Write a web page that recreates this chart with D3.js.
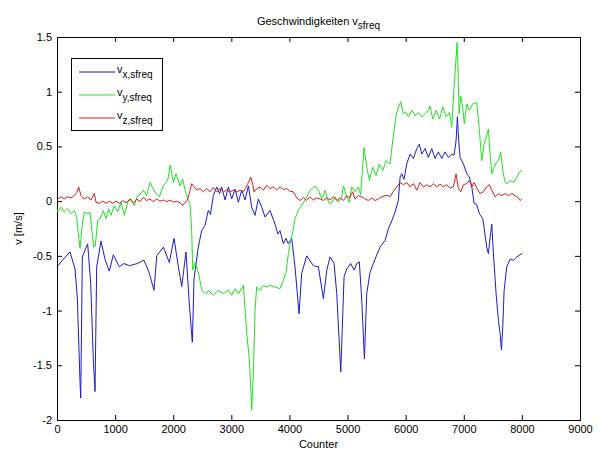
<!DOCTYPE html>
<html>
<head>
<meta charset="utf-8">
<script src="https://cdn.jsdelivr.net/npm/d3@7/dist/d3.min.js"></script>
<style>
body { margin: 0; background: #fff; }
text { font-family: "Liberation Sans", Arial, sans-serif; fill: #000; }
</style>
</head>
<body>
<script>

// v_x,sfreq
const vxCounter = [0, 110, 224, 310, 350, 396, 408, 436, 528, 580, 625, 654, 683, 757, 826, 900, 969, 1072, 1153, 1245,
    1382, 1497, 1583, 1670, 1716, 1830, 1933, 2014, 2088, 2146, 2220, 2277, 2329, 2358, 2432, 2490, 2547, 2604, 2642, 2690,
    2748, 2796, 2834, 2892, 2949, 3006, 3064, 3121, 3178, 3236, 3293, 3350, 3408, 3465, 3523, 3580, 3666, 3752, 3800, 3838,
    3896, 3941, 3981, 4039, 4096, 4165, 4211, 4297, 4412, 4498, 4584, 4642, 4699, 4768, 4814, 4883, 4940, 4986, 5055, 5112,
    5158, 5203, 5244, 5290, 5330, 5387, 5473, 5559, 5645, 5703, 5761, 5818, 5875, 5904, 5932, 5972, 6019, 6076, 6133, 6191,
    6236, 6277, 6334, 6391, 6449, 6506, 6563, 6621, 6678, 6735, 6793, 6833, 6867, 6890, 6913, 6936, 6994, 7051, 7096, 7138,
    7177, 7223, 7269, 7327, 7349, 7395, 7424, 7453, 7482, 7510, 7556, 7596, 7625, 7648, 7671, 7694, 7740, 7797, 7854, 7912,
    7969, 8000];
const vxValues = [-0.60, -0.53, -0.465, -0.62, -0.88, -1.65, -1.80, -0.51, -0.39, -0.75, -1.45, -1.74, -0.60, -0.365, -0.53, -0.64, -0.49, -0.60, -0.57, -0.59,
    -0.57, -0.54, -0.65, -0.815, -0.50, -0.42, -0.56, -0.34, -0.60, -0.78, -0.465, -0.94, -1.29, -0.71, -0.42, -0.27, -0.22, -0.085, -0.12, 0.05,
    0.13, 0.07, 0.13, 0.01, 0.13, 0.02, 0.11, -0.01, 0.10, 0.01, 0.14, -0.055, -0.13, 0.02, -0.055, -0.145, -0.085, -0.21, -0.30, -0.27,
    -0.39, -0.34, -0.39, -0.34, -0.60, -1.03, -0.66, -0.50, -0.59, -0.60, -0.89, -0.63, -0.51, -0.57, -0.845, -1.56, -0.69, -0.62, -0.57, -0.63,
    -0.57, -0.555, -0.905, -1.44, -0.845, -0.65, -0.53, -0.42, -0.36, -0.25, -0.18, -0.10, 0.01, 0.22, 0.25, 0.20, 0.34, 0.43, 0.39, 0.48,
    0.52, 0.43, 0.48, 0.40, 0.48, 0.39, 0.45, 0.39, 0.45, 0.40, 0.43, 0.42, 0.55, 0.77, 0.55, 0.40, 0.34, 0.25, 0.22, 0.13,
    -0.02, -0.03, -0.115, -0.16, -0.24, -0.42, -0.48, -0.33, -0.21, -0.48, -0.845, -1.09, -1.21, -1.36, -1.15, -0.82, -0.60, -0.53, -0.54, -0.51,
    -0.49, -0.48];

// v_y,sfreq
const vyCounter = [0, 12, 69, 126, 184, 241, 298, 339, 373, 396, 430, 470, 528, 568, 602, 631, 659, 700, 757, 797,
    843, 889, 929, 986, 1044, 1101, 1159, 1217, 1274, 1331, 1389, 1446, 1486, 1543, 1601, 1647, 1704, 1761, 1830, 1905,
    1950, 2002, 2048, 2117, 2163, 2203, 2260, 2289, 2318, 2335, 2375, 2432, 2490, 2518, 2576, 2604, 2690, 2776, 2862, 2948,
    3006, 3064, 3121, 3207, 3265, 3310, 3339, 3350, 3379, 3408, 3436, 3494, 3551, 3609, 3666, 3752, 3838, 3896, 3941, 3981,
    4022, 4057, 4096, 4154, 4211, 4269, 4355, 4441, 4498, 4556, 4613, 4670, 4727, 4785, 4842, 4900, 4928, 4974, 5031, 5072,
    5129, 5186, 5227, 5261, 5284, 5330, 5376, 5433, 5491, 5548, 5605, 5663, 5731, 5777, 5835, 5875, 5915, 5961, 6007, 6047,
    6105, 6162, 6219, 6277, 6334, 6392, 6420, 6466, 6525, 6582, 6639, 6697, 6754, 6793, 6833, 6867, 6885, 6902, 6919, 6948,
    6982, 7010, 7051, 7097, 7154, 7223, 7269, 7309, 7349, 7384, 7424, 7453, 7482, 7522, 7567, 7596, 7636, 7671, 7711, 7751,
    7809, 7866, 7912, 7957, 8000];
const vyValues = [-0.07, -0.10, -0.055, -0.10, -0.07, -0.115, -0.085, -0.145, -0.33, -0.43, -0.24, -0.10, -0.115, -0.10, -0.28, -0.42, -0.41, -0.18, -0.145, -0.085,
    -0.16, -0.07, -0.13, -0.04, -0.10, -0.01, -0.13, -0.01, 0.02, -0.04, 0.05, 0.07, 0.10, 0.05, 0.17, 0.12, 0.07, 0.04, 0.14, 0.19,
    0.33, 0.17, 0.25, 0.14, 0.20, 0.10, 0.006, -0.02, -0.27, -0.63, -0.56, -0.65, -0.81, -0.83, -0.845, -0.815, -0.86, -0.815, -0.845, -0.815,
    -0.86, -0.80, -0.845, -0.77, -1.21, -1.45, -1.76, -1.91, -1.575, -1.00, -0.785, -0.815, -0.77, -0.785, -0.77, -0.785, -0.80, -0.72, -0.65, -0.48,
    -0.36, -0.28, -0.16, -0.085, -0.04, 0.01, 0.10, 0.14, 0.10, 0.02, 0.10, -0.01, -0.02, 0.04, -0.01, 0.04, 0.14, 0.06, -0.01, 0.13,
    0.085, 0.13, 0.06, 0.326, 0.49, 0.31, 0.19, 0.31, 0.235, 0.34, 0.28, 0.37, 0.34, 0.55, 0.78, 0.86, 0.91, 0.80, 0.81, 0.77,
    0.83, 0.78, 0.81, 0.77, 0.80, 0.83, 0.87, 0.75, 0.83, 0.75, 0.86, 0.77, 0.81, 0.675, 1.04, 1.31, 1.45, 1.19, 0.80, 0.96,
    0.86, 0.705, 0.89, 0.83, 0.89, 0.90, 0.645, 0.37, 0.52, 0.58, 0.66, 0.43, 0.25, 0.31, 0.36, 0.37, 0.45, 0.28, 0.17, 0.16,
    0.19, 0.17, 0.22, 0.265, 0.28];

// v_z,sfreq
const vzCounter = [0, 12, 69, 126, 184, 241, 298, 339, 373, 413, 470, 528, 585, 642, 671, 728, 786, 843, 900, 958,
    1015, 1073, 1130, 1188, 1257, 1314, 1372, 1429, 1486, 1543, 1601, 1658, 1716, 1773, 1830, 1888, 1945, 2003, 2060, 2117,
    2163, 2203, 2243, 2278, 2318, 2358, 2404, 2461, 2518, 2576, 2633, 2691, 2748, 2806, 2863, 2920, 2977, 3035, 3092, 3150,
    3207, 3253, 3293, 3334, 3368, 3391, 3437, 3494, 3551, 3609, 3666, 3723, 3781, 3838, 3896, 3953, 4011, 4068, 4125, 4183,
    4240, 4297, 4355, 4412, 4470, 4527, 4584, 4642, 4699, 4756, 4814, 4871, 4928, 4986, 5031, 5089, 5129, 5186, 5244, 5301,
    5358, 5415, 5473, 5530, 5588, 5645, 5703, 5731, 5789, 5847, 5904, 5961, 6019, 6076, 6133, 6191, 6248, 6306, 6363, 6420,
    6478, 6535, 6592, 6650, 6707, 6764, 6822, 6867, 6907, 6948, 6994, 7051, 7097, 7138, 7177, 7223, 7280, 7338, 7395, 7441,
    7482, 7539, 7596, 7654, 7711, 7768, 7826, 7883, 7923, 7969, 8000];
const vzValues = [0.03, 0.02, 0.04, 0.02, 0.04, 0.03, 0.05, 0.08, 0.13, 0.05, 0.02, 0.04, 0.01, 0.07, -0.01, -0.02, 0.0, -0.02, 0.0, -0.02,
    0.0, -0.02, 0.005, -0.015, 0.02, -0.02, 0.02, -0.005, 0.035, 0.005, 0.02, -0.005, 0.02, 0.0, 0.01, -0.005, 0.01, -0.01, 0.0, -0.015,
    -0.04, -0.01, 0.006, 0.07, 0.16, 0.13, 0.10, 0.115, 0.085, 0.115, 0.085, 0.125, 0.085, 0.115, 0.085, 0.10, 0.085, 0.10, 0.085, 0.10,
    0.085, 0.13, 0.17, 0.22, 0.15, 0.085, 0.115, 0.13, 0.10, 0.145, 0.115, 0.13, 0.10, 0.13, 0.105, 0.115, 0.09, 0.085, 0.03, 0.006,
    0.03, 0.006, 0.04, 0.01, 0.03, 0.02, 0.006, 0.03, 0.01, 0.04, 0.006, 0.03, 0.006, 0.05, 0.03, 0.085, 0.02, 0.05, 0.04, 0.02,
    0.006, 0.03, 0.006, 0.02, 0.04, 0.05, 0.05, 0.04, 0.09, 0.13, 0.17, 0.15, 0.17, 0.13, 0.16, 0.10, 0.17, 0.13, 0.15, 0.13,
    0.16, 0.13, 0.155, 0.13, 0.15, 0.12, 0.13, 0.25, 0.12, 0.085, 0.15, 0.16, 0.19, 0.13, 0.17, 0.12, 0.07, 0.085, 0.13, 0.15,
    0.10, 0.04, 0.07, 0.05, 0.07, 0.05, 0.07, 0.05, 0.04, 0.006, 0.02];

const xTicks = [0, 1000, 2000, 3000, 4000, 5000, 6000, 7000, 8000, 9000];
const yTicks = [-2, -1.5, -1, -0.5, 0, 0.5, 1, 1.5];
const seriesSubs = ['x,sfreq', 'y,sfreq', 'z,sfreq'];
const seriesColors = ['#1c1cc4', '#22e022', '#dc1c1c'];

const series = [
    { counter: vxCounter, values: vxValues },
    { counter: vyCounter, values: vyValues },
    { counter: vzCounter, values: vzValues }
];

const svg = d3.select('body')
    .append('svg')
    .attr('width', 600)
    .attr('height', 452);

svg.append('rect')
    .attr('width', 600)
    .attr('height', 452)
    .attr('fill', '#fff');

const plotLeft = 57, plotRight = 580, plotTop = 37, plotBottom = 420;

const x = d3.scaleLinear().domain([0, 9000]).range([plotLeft, plotRight]);
const y = d3.scaleLinear().domain([-2, 1.5]).range([plotBottom, plotTop]);

// ticks point inward on all four sides, like matlab
svg.append('g')
    .attr('transform', `translate(0,${plotBottom})`)
    .call(d3.axisBottom(x).tickValues(xTicks).tickSizeInner(-5).tickSizeOuter(0).tickPadding(5)
        .tickFormat(d => String(d)));
svg.append('g')
    .attr('transform', `translate(0,${plotTop})`)
    .call(d3.axisTop(x).tickValues(xTicks).tickSizeInner(-5).tickSizeOuter(0).tickFormat(''));
svg.append('g')
    .attr('transform', `translate(${plotLeft},0)`)
    .call(d3.axisLeft(y).tickValues(yTicks).tickSizeInner(-5).tickSizeOuter(0).tickPadding(5)
        .tickFormat(d => String(d)));
svg.append('g')
    .attr('transform', `translate(${plotRight},0)`)
    .call(d3.axisRight(y).tickValues(yTicks).tickSizeInner(-5).tickSizeOuter(0).tickFormat(''));

svg.selectAll('.domain').remove();
svg.selectAll('.tick text')
    .attr('font-size', 11)
    .attr('font-family', '"Liberation Sans", Arial, sans-serif');

svg.append('rect')
    .attr('x', plotLeft + 0.5)
    .attr('y', plotTop + 0.5)
    .attr('width', plotRight - plotLeft)
    .attr('height', plotBottom - plotTop)
    .attr('fill', 'none')
    .attr('stroke', '#000');

const lineGen = d3.line()
    .x(d => x(d[0]))
    .y(d => y(d[1]));

const plot_g = svg.append('g');

series.forEach((s, i) => {
    const pts = s.counter.map((c, k) => [c, s.values[k]]);
    plot_g.append('path')
        .datum(pts)
        .attr('d', lineGen)
        .attr('fill', 'none')
        .attr('stroke', seriesColors[i])
        .attr('stroke-width', 1);
});

// title with subscript
const title = svg.append('text')
    .attr('x', (plotLeft + plotRight) / 2)
    .attr('y', 25)
    .attr('text-anchor', 'middle')
    .attr('font-size', 11);
title.append('tspan').text('Geschwindigkeiten v');
title.append('tspan').attr('dy', 4).attr('font-size', 10).text('sfreq');

svg.append('text')
    .attr('x', (plotLeft + plotRight) / 2)
    .attr('y', 448)
    .attr('text-anchor', 'middle')
    .attr('font-size', 11)
    .text('Counter');

svg.append('text')
    .attr('transform', `translate(22,${(plotTop + plotBottom) / 2}) rotate(-90)`)
    .attr('text-anchor', 'middle')
    .attr('font-size', 11)
    .text('v [m/s]');

// legend
const legend_g = svg.append('g');
legend_g.append('rect')
    .attr('x', 71.5)
    .attr('y', 58.5)
    .attr('width', 91)
    .attr('height', 72)
    .attr('fill', '#fff')
    .attr('stroke', '#000');

const rowY = [72, 95, 118];
seriesSubs.forEach((sub, i) => {
    legend_g.append('line')
        .attr('x1', 79).attr('x2', 115)
        .attr('y1', rowY[i]).attr('y2', rowY[i])
        .attr('stroke', seriesColors[i]);
    const t = legend_g.append('text')
        .attr('x', 117)
        .attr('y', rowY[i] + 1)
        .attr('font-size', 11);
    t.append('tspan').text('v');
    t.append('tspan').attr('dy', 5).attr('font-size', 10).text(sub);
});

</script>
</body>
</html>
